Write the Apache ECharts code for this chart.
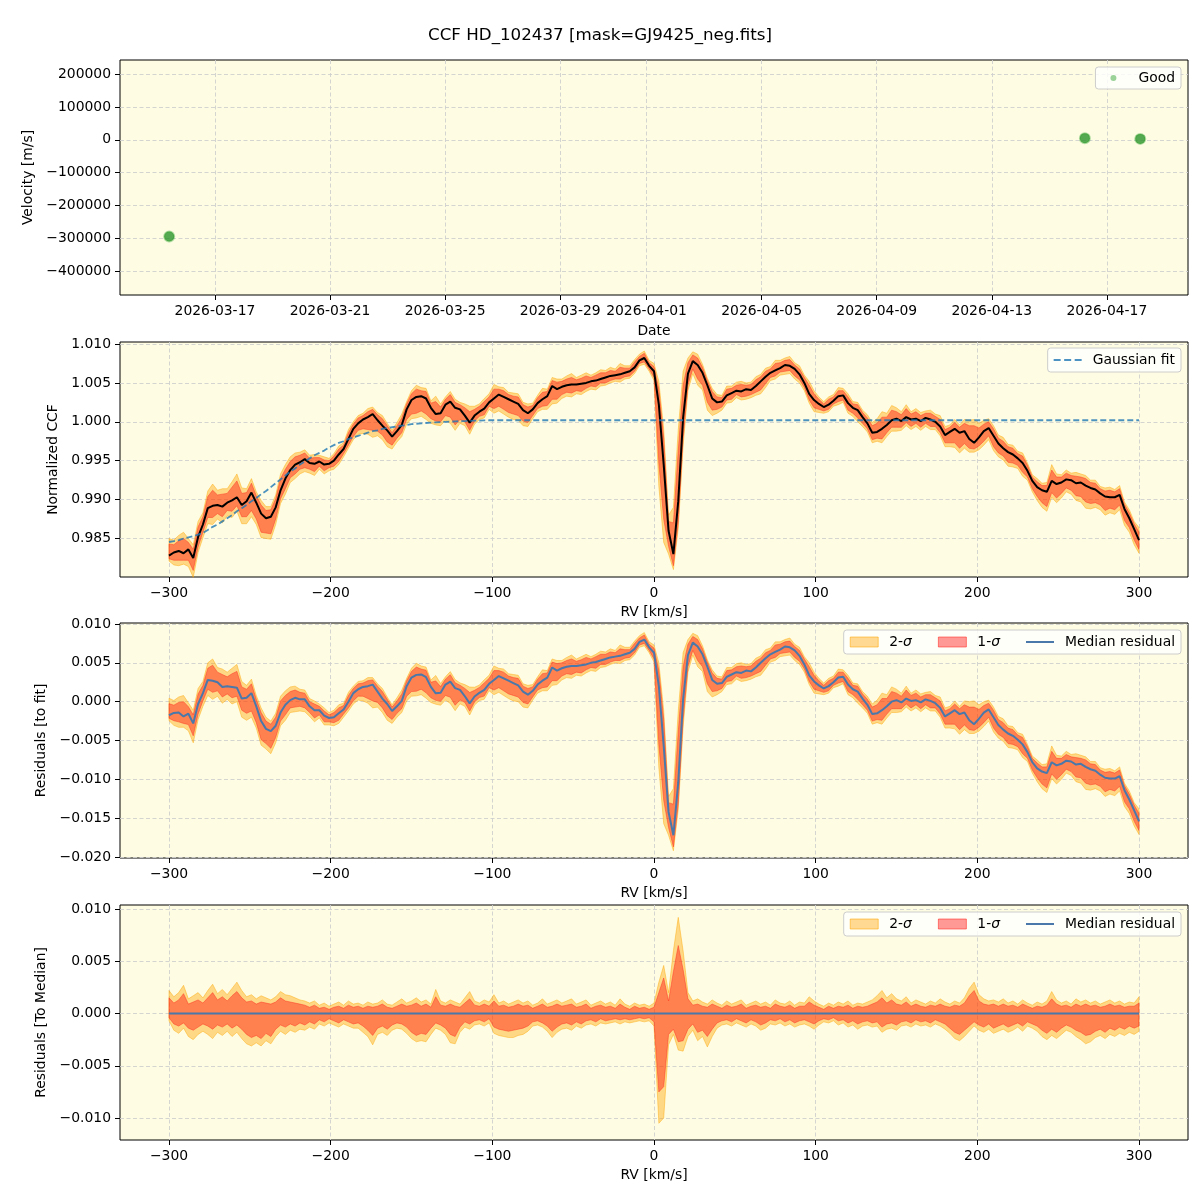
<!DOCTYPE html>
<html>
<head>
<meta charset="utf-8">
<script src="https://cdn.jsdelivr.net/npm/echarts@6/dist/echarts.min.js"></script>
<style>
  html, body { margin: 0; padding: 0; background: #fff; }
  #main { width: 1200px; height: 1200px; }
</style>
</head>
<body>
<div id="main"></div>
<script>
// ---- data ----
var dateTicks = ['2026-03-17', '2026-03-21', '2026-03-25', '2026-03-29', '2026-04-01', '2026-04-05', '2026-04-09', '2026-04-13', '2026-04-17'];
var obsDates = ['2026-03-15T09:50', '2026-04-16T05:38', '2026-04-18T03:50'];
var obsVelocity = [-294800, 5200, 3000];
var velTicks = [200000, 100000, 0, -100000, -200000, -300000, -400000];
var rvTicks = [-300, -200, -100, 0, 100, 200, 300];
var ccfTicks = [0.985, 0.990, 0.995, 1.000, 1.005, 1.010];
var resTicks = [-0.020, -0.015, -0.010, -0.005, 0, 0.005, 0.010];
var medTicks = [-0.010, -0.005, 0, 0.005, 0.010];

// RV grid [km/s]
var rv = [-300,-297,-294,-291,-288,-285,-282,-279,-276,-273,-270,-267,-264,-261,-258,-255,-252,-249,-246,-243,-240,-237,-234,-231,-228,-225,-222,-219,-216,-213,-210,-207,-204,-201,
  -198,-195,-192,-189,-186,-183,-180,-177,-174,-171,-168,-165,-162,-159,-156,-153,-150,-147,-144,-141,-138,-135,-132,-129,-126,-123,-120,-117,-114,-111,-108,-105,-102,
  -99,-96,-93,-90,-87,-84,-81,-78,-75,-72,-69,-66,-63,-60,-57,-54,-51,-48,-45,-42,-39,-36,-33,-30,-27,-24,-21,-18,-15,-12,-9,-6,-3,
  0,3,6,9,12,15,18,21,24,27,30,33,36,39,42,45,48,51,54,57,60,63,66,69,72,75,78,81,84,87,90,93,96,
  99,102,105,108,111,114,117,120,123,126,129,132,135,138,141,144,147,150,153,156,159,162,165,168,171,174,177,180,183,186,189,192,195,
  198,201,204,207,210,213,216,219,222,225,228,231,234,237,240,243,246,249,252,255,258,261,264,267,270,273,276,279,282,285,288,291,294,297,300];

// median normalized CCF
var ccf = [0.9828,0.9832,0.9834,0.9831,0.9836,0.9825,0.9852,0.9868,0.9889,0.9892,0.9893,0.9891,0.9896,0.9899,0.9903,0.9893,0.9898,0.9909,0.9896,0.9882,0.9876,0.9878,0.9890,0.9912,0.9927,0.9938,0.9945,0.9948,0.9952,0.9947,0.9946,0.9949,0.9945,0.9946,
  0.9950,0.9958,0.9965,0.9978,0.9991,0.9998,1.0003,1.0006,1.0010,1.0002,0.9995,0.9989,0.9981,0.9988,0.9996,1.0016,1.0028,1.0032,1.0033,1.0030,1.0018,1.0010,1.0011,1.0022,1.0026,1.0018,1.0016,1.0008,0.9999,1.0008,1.0013,1.0017,1.0025,
  1.0030,1.0035,1.0032,1.0029,1.0026,1.0023,1.0015,1.0011,1.0016,1.0024,1.0029,1.0033,1.0046,1.0042,1.0045,1.0047,1.0048,1.0048,1.0049,1.0050,1.0052,1.0053,1.0055,1.0057,1.0059,1.0060,1.0061,1.0063,1.0065,1.0070,1.0079,1.0082,1.0072,
  1.0065,1.0022,0.9945,0.9860,0.9830,0.9898,1.0005,1.0062,1.0078,1.0073,1.0063,1.0047,1.0030,1.0025,1.0026,1.0034,1.0037,1.0040,1.0039,1.0042,1.0041,1.0046,1.0052,1.0058,1.0063,1.0066,1.0069,1.0073,1.0072,1.0068,1.0061,1.0050,1.0036,
  1.0028,1.0023,1.0019,1.0022,1.0027,1.0033,1.0034,1.0024,1.0018,1.0015,1.0006,0.9998,0.9986,0.9987,0.9991,0.9996,1.0002,1.0004,1.0001,1.0006,1.0003,1.0004,1.0001,1.0005,1.0003,1.0000,0.9994,0.9983,0.9987,0.9991,0.9986,0.9988,0.9978,
  0.9973,0.9980,0.9988,0.9992,0.9982,0.9972,0.9966,0.9961,0.9958,0.9953,0.9947,0.9937,0.9924,0.9916,0.9912,0.9910,0.9924,0.9920,0.9922,0.9926,0.9925,0.9921,0.9922,0.9918,0.9915,0.9913,0.9908,0.9904,0.9903,0.9903,0.9906,0.9888,0.9876,0.9862,0.9848];

// Gaussian fit
var gaussFit = [0.98455,0.98465,0.9848,0.9850,0.98515,0.9853,0.9855,0.9857,0.9861,0.9865,0.9868,0.9872,0.9876,0.9880,0.9885,0.9889,0.9893,0.9898,0.9902,0.9907,0.9911,0.9916,0.9921,0.9926,0.9931,0.9936,0.9940,0.9945,0.9949,0.9953,0.9957,0.9960,0.9963,0.9967,
  0.9970,0.9973,0.9975,0.9978,0.9980,0.9982,0.9984,0.9986,0.9988,0.9989,0.9991,0.9992,0.9993,0.9994,0.9995,0.9996,0.9997,0.99975,0.9998,0.99985,0.9999,0.99993,0.99996,1.0000,1.00003,1.00006,1.00008,1.0001,1.00012,1.00014,1.00016,1.00018,1.0002,
  1.0002,1.0002,1.0002,1.0002,1.0002,1.0002,1.0002,1.0002,1.0002,1.0002,1.0002,1.0002,1.0002,1.0002,1.0002,1.0002,1.0002,1.0002,1.0002,1.0002,1.0002,1.0002,1.0002,1.0002,1.0002,1.0002,1.0002,1.0002,1.0002,1.0002,1.0002,1.0002,1.0002,
  1.0002,1.0002,1.0002,1.0002,1.0002,1.0002,1.0002,1.0002,1.0002,1.0002,1.0002,1.0002,1.0002,1.0002,1.0002,1.0002,1.0002,1.0002,1.0002,1.0002,1.0002,1.0002,1.0002,1.0002,1.0002,1.0002,1.0002,1.0002,1.0002,1.0002,1.0002,1.0002,1.0002,
  1.0002,1.0002,1.0002,1.0002,1.0002,1.0002,1.0002,1.0002,1.0002,1.0002,1.0002,1.0002,1.0002,1.0002,1.0002,1.0002,1.0002,1.0002,1.0002,1.0002,1.0002,1.0002,1.0002,1.0002,1.0002,1.0002,1.0002,1.0002,1.0002,1.0002,1.0002,1.0002,1.0002,
  1.0002,1.0002,1.0002,1.0002,1.0002,1.0002,1.0002,1.0002,1.0002,1.0002,1.0002,1.0002,1.0002,1.0002,1.0002,1.0002,1.0002,1.0002,1.0002,1.0002,1.0002,1.0002,1.0002,1.0002,1.0002,1.0002,1.0002,1.0002,1.0002,1.0002,1.0002,1.0002,1.0002,1.0002,1.0002];

// band edges relative to the median CCF
var sig2Hi = [0.0022,0.0016,0.0020,0.0027,0.0014,0.0017,0.0020,0.0015,0.0022,0.0028,0.0019,0.0023,0.0018,0.0024,0.0030,0.0022,0.0016,0.0018,0.0014,0.0017,0.0015,0.0013,0.0016,0.0021,0.0018,0.0017,0.0015,0.0013,0.0012,0.0010,0.0012,0.0008,0.0010,0.0007,
  0.0009,0.0011,0.0008,0.0012,0.0009,0.0010,0.0008,0.0011,0.0009,0.0010,0.0013,0.0009,0.0008,0.0011,0.0014,0.0010,0.0012,0.0015,0.0011,0.0013,0.0009,0.0023,0.0012,0.0010,0.0013,0.0011,0.0009,0.0015,0.0021,0.0012,0.0010,0.0013,0.0011,
  0.0018,0.0010,0.0012,0.0009,0.0011,0.0013,0.0010,0.0012,0.0008,0.0010,0.0014,0.0009,0.0011,0.0013,0.0010,0.0012,0.0014,0.0009,0.0011,0.0013,0.0008,0.0010,0.0012,0.0009,0.0011,0.0008,0.0014,0.0009,0.0007,0.0010,0.0008,0.0009,0.0007,
  0.0010,0.0030,0.0046,0.0020,0.0060,0.0092,0.0060,0.0020,0.0012,0.0014,0.0011,0.0009,0.0013,0.0010,0.0008,0.0012,0.0009,0.0011,0.0013,0.0008,0.0010,0.0012,0.0009,0.0011,0.0008,0.0013,0.0010,0.0009,0.0012,0.0008,0.0011,0.0010,0.0016,
  0.0012,0.0009,0.0007,0.0010,0.0008,0.0011,0.0009,0.0012,0.0008,0.0010,0.0009,0.0011,0.0013,0.0017,0.0022,0.0015,0.0019,0.0014,0.0012,0.0016,0.0010,0.0013,0.0011,0.0009,0.0012,0.0010,0.0014,0.0011,0.0009,0.0012,0.0010,0.0015,0.0024,
  0.0030,0.0018,0.0014,0.0012,0.0013,0.0011,0.0014,0.0010,0.0012,0.0009,0.0013,0.0010,0.0008,0.0011,0.0009,0.0012,0.0021,0.0013,0.0010,0.0012,0.0009,0.0014,0.0011,0.0013,0.0010,0.0012,0.0009,0.0011,0.0013,0.0010,0.0012,0.0009,0.0011,0.0010,0.0016];

var sig1Hi = [0.0015,0.0010,0.0013,0.0019,0.0009,0.0011,0.0013,0.0010,0.0015,0.0020,0.0013,0.0016,0.0012,0.0017,0.0021,0.0015,0.0011,0.0012,0.0009,0.0011,0.0010,0.0009,0.0011,0.0015,0.0012,0.0011,0.0010,0.0009,0.0008,0.0006,0.0008,0.0005,0.0006,0.0004,
  0.0006,0.0007,0.0005,0.0008,0.0006,0.0007,0.0005,0.0007,0.0006,0.0007,0.0009,0.0006,0.0005,0.0007,0.0009,0.0007,0.0008,0.0010,0.0007,0.0009,0.0006,0.0016,0.0008,0.0007,0.0009,0.0007,0.0006,0.0010,0.0014,0.0008,0.0007,0.0009,0.0007,
  0.0012,0.0007,0.0008,0.0006,0.0007,0.0009,0.0007,0.0008,0.0005,0.0007,0.0009,0.0006,0.0007,0.0009,0.0007,0.0008,0.0009,0.0006,0.0007,0.0009,0.0005,0.0007,0.0008,0.0006,0.0007,0.0005,0.0009,0.0006,0.0004,0.0007,0.0005,0.0006,0.0004,
  0.0006,0.0020,0.0034,0.0012,0.0040,0.0065,0.0042,0.0014,0.0008,0.0009,0.0007,0.0006,0.0009,0.0007,0.0005,0.0008,0.0006,0.0007,0.0009,0.0005,0.0007,0.0008,0.0006,0.0007,0.0005,0.0009,0.0007,0.0006,0.0008,0.0005,0.0007,0.0007,0.0011,
  0.0008,0.0006,0.0004,0.0007,0.0005,0.0007,0.0006,0.0008,0.0005,0.0007,0.0006,0.0007,0.0009,0.0011,0.0015,0.0010,0.0013,0.0009,0.0008,0.0011,0.0007,0.0009,0.0007,0.0006,0.0008,0.0007,0.0009,0.0007,0.0006,0.0008,0.0007,0.0010,0.0017,
  0.0022,0.0012,0.0009,0.0008,0.0009,0.0007,0.0009,0.0007,0.0008,0.0006,0.0009,0.0007,0.0005,0.0007,0.0006,0.0008,0.0014,0.0009,0.0007,0.0008,0.0006,0.0009,0.0007,0.0009,0.0007,0.0008,0.0006,0.0007,0.0009,0.0007,0.0008,0.0006,0.0007,0.0007,0.0010];

var sig1Lo = [-0.0004,-0.0010,-0.0012,-0.0009,-0.0014,-0.0016,-0.0013,-0.0010,-0.0012,-0.0015,-0.0011,-0.0013,-0.0010,-0.0014,-0.0011,-0.0015,-0.0020,-0.0023,-0.0021,-0.0024,-0.0019,-0.0022,-0.0015,-0.0011,-0.0013,-0.0010,-0.0012,-0.0009,-0.0011,-0.0008,-0.0010,-0.0006,-0.0008,-0.0005,
  -0.0007,-0.0009,-0.0006,-0.0008,-0.0010,-0.0009,-0.0012,-0.0016,-0.0021,-0.0014,-0.0012,-0.0015,-0.0011,-0.0009,-0.0010,-0.0013,-0.0018,-0.0021,-0.0019,-0.0020,-0.0014,-0.0009,-0.0011,-0.0014,-0.0020,-0.0022,-0.0013,-0.0008,-0.0010,-0.0007,-0.0006,-0.0008,-0.0005,
  -0.0013,-0.0015,-0.0016,-0.0017,-0.0016,-0.0015,-0.0014,-0.0012,-0.0008,-0.0007,-0.0009,-0.0012,-0.0017,-0.0013,-0.0010,-0.0009,-0.0011,-0.0008,-0.0010,-0.0007,-0.0006,-0.0008,-0.0005,-0.0007,-0.0006,-0.0005,-0.0006,-0.0005,-0.0006,-0.0005,-0.0004,-0.0005,-0.0004,
  -0.0008,-0.0075,-0.0070,-0.0020,-0.0015,-0.0027,-0.0026,-0.0015,-0.0010,-0.0018,-0.0016,-0.0022,-0.0015,-0.0009,-0.0007,-0.0006,-0.0008,-0.0005,-0.0007,-0.0009,-0.0006,-0.0008,-0.0011,-0.0009,-0.0006,-0.0007,-0.0005,-0.0008,-0.0006,-0.0009,-0.0007,-0.0006,-0.0008,
  -0.0010,-0.0007,-0.0005,-0.0006,-0.0004,-0.0007,-0.0006,-0.0009,-0.0007,-0.0010,-0.0008,-0.0007,-0.0009,-0.0008,-0.0013,-0.0010,-0.0009,-0.0011,-0.0008,-0.0007,-0.0009,-0.0006,-0.0008,-0.0007,-0.0009,-0.0006,-0.0008,-0.0010,-0.0014,-0.0018,-0.0020,-0.0016,-0.0012,
  -0.0008,-0.0011,-0.0013,-0.0010,-0.0014,-0.0012,-0.0010,-0.0013,-0.0011,-0.0009,-0.0012,-0.0008,-0.0010,-0.0012,-0.0016,-0.0019,-0.0015,-0.0018,-0.0014,-0.0011,-0.0013,-0.0016,-0.0018,-0.0021,-0.0020,-0.0017,-0.0015,-0.0018,-0.0014,-0.0016,-0.0013,-0.0015,-0.0012,-0.0014,-0.0012];

var sig2Lo = [-0.0007,-0.0016,-0.0019,-0.0014,-0.0022,-0.0025,-0.0020,-0.0017,-0.0020,-0.0024,-0.0018,-0.0021,-0.0017,-0.0022,-0.0018,-0.0024,-0.0029,-0.0031,-0.0028,-0.0031,-0.0026,-0.0029,-0.0022,-0.0017,-0.0020,-0.0016,-0.0018,-0.0015,-0.0016,-0.0013,-0.0015,-0.0010,-0.0012,-0.0009,
  -0.0011,-0.0013,-0.0010,-0.0012,-0.0014,-0.0014,-0.0018,-0.0022,-0.0030,-0.0020,-0.0018,-0.0021,-0.0016,-0.0014,-0.0015,-0.0019,-0.0024,-0.0027,-0.0026,-0.0027,-0.0020,-0.0014,-0.0016,-0.0020,-0.0028,-0.0029,-0.0018,-0.0013,-0.0015,-0.0011,-0.0010,-0.0012,-0.0009,
  -0.0019,-0.0021,-0.0022,-0.0023,-0.0023,-0.0021,-0.0020,-0.0017,-0.0012,-0.0011,-0.0013,-0.0017,-0.0023,-0.0018,-0.0015,-0.0014,-0.0016,-0.0012,-0.0014,-0.0011,-0.0010,-0.0012,-0.0009,-0.0010,-0.0009,-0.0008,-0.0010,-0.0008,-0.0009,-0.0008,-0.0007,-0.0008,-0.0007,
  -0.0012,-0.0105,-0.0100,-0.0030,-0.0020,-0.0035,-0.0036,-0.0022,-0.0016,-0.0026,-0.0022,-0.0032,-0.0022,-0.0014,-0.0011,-0.0010,-0.0012,-0.0009,-0.0011,-0.0013,-0.0010,-0.0012,-0.0016,-0.0014,-0.0010,-0.0011,-0.0009,-0.0012,-0.0010,-0.0013,-0.0011,-0.0010,-0.0012,
  -0.0015,-0.0011,-0.0008,-0.0009,-0.0007,-0.0011,-0.0009,-0.0013,-0.0011,-0.0015,-0.0012,-0.0011,-0.0013,-0.0012,-0.0018,-0.0015,-0.0014,-0.0016,-0.0012,-0.0011,-0.0013,-0.0010,-0.0012,-0.0011,-0.0013,-0.0010,-0.0012,-0.0015,-0.0019,-0.0024,-0.0026,-0.0022,-0.0017,
  -0.0012,-0.0016,-0.0018,-0.0015,-0.0019,-0.0017,-0.0015,-0.0018,-0.0016,-0.0013,-0.0017,-0.0012,-0.0014,-0.0017,-0.0022,-0.0025,-0.0021,-0.0024,-0.0020,-0.0016,-0.0018,-0.0022,-0.0025,-0.0029,-0.0027,-0.0023,-0.0021,-0.0024,-0.0020,-0.0022,-0.0019,-0.0021,-0.0018,-0.0020,-0.0017];

// ---- styling helpers ----
var FONT = 'DejaVu Sans';
var FS = 13.9;
var BG = '#fefde3';
var FILL2 = 'rgba(255,165,0,0.42)';
var EDGE2 = 'rgba(255,165,0,0.55)';
var FILL1 = 'rgba(255,0,0,0.40)';
var EDGE1 = 'rgba(255,40,30,0.55)';
var BLUE = '#4a78aa';
var FIT_BLUE = 'rgba(31,119,180,0.8)';

function toMs(s) { return new Date(s + 'Z').getTime(); }
function minus(s) { return s.replace('-', '\u2212'); }

var residual = ccf.map(function (v, i) { return v - gaussFit[i]; });
var zeroLine = ccf.map(function (v) { return v - v; });

function pairs(xs, ys) { return xs.map(function (x, i) { return [x, ys[i]]; }); }

// filled band between center+lo and center+hi, drawn as one polygon through the axis scales
function bandSeries(name, idx, center, lo, hi, fill, edge) {
  var lower = center.map(function (c, i) { return c + lo[i]; });
  var upper = center.map(function (c, i) { return c + hi[i]; });
  return {
    name: name, type: 'custom', xAxisIndex: idx, yAxisIndex: idx, silent: true,
    data: rv.map(function (x, i) { return [x, lower[i], upper[i]]; }),
    encode: { x: 0, y: [1, 2] },
    itemStyle: { color: fill },
    renderItem: function (params, api) {
      if (params.dataIndex !== 0) return null;
      var pts = [];
      for (var i = 0; i < rv.length; i++) pts.push(api.coord([rv[i], upper[i]]));
      for (var j = rv.length - 1; j >= 0; j--) pts.push(api.coord([rv[j], lower[j]]));
      return { type: 'polygon', shape: { points: pts }, style: { fill: fill, stroke: edge, lineWidth: 0.8 } };
    }
  };
}

function gridLine() {
  return { show: true, lineStyle: { color: '#cfcfcf', width: 0.9, type: [4, 2.5] } };
}

function rvAxis(idx) {
  return {
    type: 'value', gridIndex: idx, min: -330.3, max: 330.3,
    name: 'RV [km/s]', nameLocation: 'middle', nameGap: 28,
    nameTextStyle: { fontFamily: FONT, fontSize: FS, color: '#000' },
    axisLine: { show: false, onZero: false },
    axisTick: { show: true, length: 5, lineStyle: { color: '#000' }, customValues: rvTicks },
    axisLabel: { customValues: rvTicks, margin: 9, color: '#000', fontFamily: FONT, fontSize: FS,
      formatter: function (v) { return minus(String(Math.round(v))); } },
    splitLine: gridLine()
  };
}

function valAxis(idx, name, gap, min, max, ticks, digits) {
  return {
    type: 'value', gridIndex: idx, min: min, max: max,
    name: name, nameLocation: 'middle', nameGap: gap,
    nameTextStyle: { fontFamily: FONT, fontSize: FS, color: '#000' },
    axisLine: { show: false, onZero: false },
    axisTick: { show: true, length: 5, lineStyle: { color: '#000' }, customValues: ticks },
    axisLabel: { customValues: ticks, margin: 9, color: '#000', fontFamily: FONT, fontSize: FS,
      formatter: function (v) { return minus(v.toFixed(digits)); } },
    splitLine: gridLine()
  };
}

var legendBox = {
  backgroundColor: 'rgba(255,255,255,0.8)', borderColor: '#cccccc', borderWidth: 1, borderRadius: 3,
  selectedMode: false, orient: 'horizontal', symbolKeepAspect: true,
  textStyle: { fontFamily: FONT, fontSize: FS, color: '#000', padding: [0, 0, 0, 6],
    rich: { i: { fontFamily: FONT, fontSize: FS, fontStyle: 'italic', color: '#000' } } },
  formatter: function (name) { return name.replace('σ', '{i|σ}'); }
};

var LINE_ICON = 'path://M0,0h28v2h-28z';
var DASH_ICON = 'path://M0,0h7v2h-7zM10.5,0h7v2h-7zM21,0h7v2h-7z';

var sigmaLegendData = [
  { name: '2-σ', icon: 'rect', itemStyle: { color: FILL2, borderColor: EDGE2, borderWidth: 1 } },
  { name: '1-σ', icon: 'rect', itemStyle: { color: FILL1, borderColor: EDGE1, borderWidth: 1 } },
  { name: 'Median residual', icon: LINE_ICON, itemStyle: { color: BLUE, borderWidth: 0 } }
];

var grids = [60, 342, 623, 905].map(function (top) {
  return { left: 120, top: top, width: 1068, height: 235, show: true,
    backgroundColor: BG, borderColor: '#000', borderWidth: 1 };
});

var dateMs = dateTicks.map(function (d) { return toMs(d + 'T00:00'); });

var series = [];
series.push({
  name: 'Good', type: 'scatter', xAxisIndex: 0, yAxisIndex: 0, silent: true,
  data: obsDates.map(function (d, i) { return [toMs(d), obsVelocity[i]]; }),
  symbolSize: 10,
  itemStyle: { color: '#2a932a', borderColor: 'rgba(44,160,44,0.45)', borderWidth: 2 }
});

// panel 2: CCF
series.push(bandSeries('2-σ', 1, ccf, sig2Lo, sig2Hi, FILL2, EDGE2));
series.push(bandSeries('1-σ', 1, ccf, sig1Lo, sig1Hi, FILL1, EDGE1));
series.push({ name: 'CCF', type: 'line', xAxisIndex: 1, yAxisIndex: 1, data: pairs(rv, ccf),
  showSymbol: false, symbol: 'none', silent: true, lineStyle: { color: '#000', width: 2 }, z: 5 });
series.push({ name: 'Gaussian fit', type: 'line', xAxisIndex: 1, yAxisIndex: 1, data: pairs(rv, gaussFit),
  showSymbol: false, symbol: 'none', silent: true, itemStyle: { color: FIT_BLUE },
  lineStyle: { color: FIT_BLUE, width: 1.8, type: [6, 3] }, z: 6 });

// panel 3: residual to fit
series.push(bandSeries('2-σ', 2, residual, sig2Lo, sig2Hi, FILL2, EDGE2));
series.push(bandSeries('1-σ', 2, residual, sig1Lo, sig1Hi, FILL1, EDGE1));
series.push({ name: 'Median residual', type: 'line', xAxisIndex: 2, yAxisIndex: 2, data: pairs(rv, residual),
  showSymbol: false, symbol: 'none', silent: true, itemStyle: { color: BLUE },
  lineStyle: { color: BLUE, width: 2 }, z: 5 });

// panel 4: residual to median
series.push(bandSeries('2-σ', 3, zeroLine, sig2Lo, sig2Hi, FILL2, EDGE2));
series.push(bandSeries('1-σ', 3, zeroLine, sig1Lo, sig1Hi, FILL1, EDGE1));
series.push({ name: 'Median residual', type: 'line', xAxisIndex: 3, yAxisIndex: 3, data: pairs(rv, zeroLine),
  showSymbol: false, symbol: 'none', silent: true, itemStyle: { color: BLUE },
  lineStyle: { color: BLUE, width: 2 }, z: 5 });

var chart = echarts.init(document.getElementById('main'));
chart.setOption({
  animation: false,
  backgroundColor: '#fff',
  title: { text: 'CCF HD_102437 [mask=GJ9425_neg.fits]', left: 'center', top: 22,
    textStyle: { fontFamily: FONT, fontSize: 16.7, fontWeight: 'normal', color: '#000' } },
  grid: grids,
  xAxis: [
    {
      type: 'value', gridIndex: 0, min: toMs('2026-03-13T16:48'), max: toMs('2026-04-19T19:40'),
      name: 'Date', nameLocation: 'middle', nameGap: 29,
      nameTextStyle: { fontFamily: FONT, fontSize: FS, color: '#000' },
      axisLine: { show: false, onZero: false },
      axisTick: { show: true, length: 5, lineStyle: { color: '#000' }, customValues: dateMs },
      axisLabel: { customValues: dateMs, margin: 9, color: '#000', fontFamily: FONT, fontSize: FS,
        formatter: function (v) { return new Date(v).toISOString().slice(0, 10); } },
      splitLine: gridLine()
    },
    rvAxis(1), rvAxis(2), rvAxis(3)
  ],
  yAxis: [
    {
      type: 'value', gridIndex: 0, min: -473200, max: 243600,
      name: 'Velocity [m/s]', nameLocation: 'middle', nameGap: 76,
      nameTextStyle: { fontFamily: FONT, fontSize: FS, color: '#000' },
      axisLine: { show: false, onZero: false },
      axisTick: { show: true, length: 5, lineStyle: { color: '#000' }, customValues: velTicks },
      axisLabel: { customValues: velTicks, margin: 9, color: '#000', fontFamily: FONT, fontSize: FS,
        formatter: function (v) { return minus(String(Math.round(v))); } },
      splitLine: gridLine()
    },
    valAxis(1, 'Normalized CCF', 50, 0.98005, 1.01026, ccfTicks, 3),
    valAxis(2, 'Residuals [to fit]', 62, -0.02013, 0.01013, resTicks, 3),
    valAxis(3, 'Residuals [To Median]', 62, -0.0121, 0.01038, medTicks, 3)
  ],
  legend: [
    Object.assign({}, legendBox, { top: 67, right: 19, padding: [4, 6, 4, 15], itemWidth: 28, itemHeight: 6,
      data: [{ name: 'Good', icon: 'circle', itemStyle: { color: 'rgba(44,160,44,0.6)', borderWidth: 0 } }] }),
    Object.assign({}, legendBox, { top: 348, right: 19, padding: [5, 6, 5, 6], itemWidth: 28, itemHeight: 10,
      data: [{ name: 'Gaussian fit', icon: DASH_ICON, itemStyle: { color: FIT_BLUE, borderWidth: 0 } }] }),
    Object.assign({}, legendBox, { top: 630, right: 19, padding: [5, 6, 5, 6], itemWidth: 28, itemHeight: 10, itemGap: 26,
      data: sigmaLegendData }),
    Object.assign({}, legendBox, { top: 912, right: 19, padding: [5, 6, 5, 6], itemWidth: 28, itemHeight: 10, itemGap: 26,
      data: sigmaLegendData })
  ],
  series: series
});
</script>
</body>
</html>
